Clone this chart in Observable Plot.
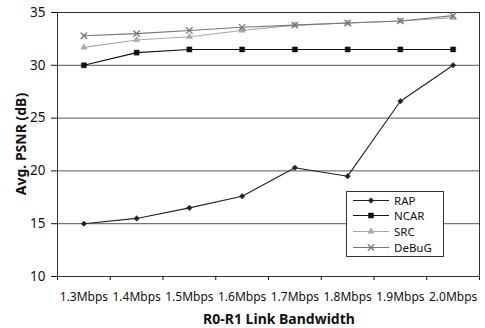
<!DOCTYPE html>
<html>
<head>
<meta charset="utf-8">
<script src="https://cdn.jsdelivr.net/npm/d3@7"></script>
<script src="https://cdn.jsdelivr.net/npm/@observablehq/plot@0.6"></script>
<style>
  html, body { margin: 0; padding: 0; background: #fff; }
  #wrap { position: relative; width: 485px; height: 328px; font-family: "Noto Sans", sans-serif; color: #111; }
  #ylab { position: absolute; left: 20px; top: 144px; transform: translate(-50%, -50%) rotate(-90deg); font-weight: bold; font-size: 14px; white-space: nowrap; }
  #xlab { position: absolute; left: 279px; top: 318px; transform: translate(-50%, -50%); font-weight: bold; font-size: 14px; white-space: nowrap; }
  #legend { position: absolute; left: 346px; top: 191px; width: 96px; height: 64px; border: 1px solid #333; background: #fff; font-size: 11.5px; line-height: 15px; }
  #legend .row { position: absolute; left: 4px; height: 15px; line-height: 15px; display: flex; align-items: center; }
  #legend svg { margin-right: 3px; display: block; }
</style>
</head>
<body>
<div id="wrap">
  <div id="chart"></div>
  <div id="ylab">Avg. PSNR (dB)</div>
  <div id="xlab">R0-R1 Link Bandwidth</div>
  <div id="legend"></div>
</div>
<script>
const categories = ["1.3Mbps","1.4Mbps","1.5Mbps","1.6Mbps","1.7Mbps","1.8Mbps","1.9Mbps","2.0Mbps"];
const RAP   = [15.0, 15.5, 16.5, 17.6, 20.3, 19.5, 26.6, 30.0];
const NCAR  = [30.0, 31.2, 31.5, 31.5, 31.5, 31.5, 31.5, 31.5];
const SRC   = [31.7, 32.4, 32.7, 33.3, 33.8, 34.0, 34.2, 34.5];
const DeBuG = [32.8, 33.0, 33.3, 33.6, 33.8, 34.0, 34.2, 34.7];
const yTicks = [10, 15, 20, 25, 30, 35];

const seriesNames = ["RAP", "NCAR", "SRC", "DeBuG"];
const seriesValues = {RAP, NCAR, SRC, DeBuG};
const seriesStyle = {
  RAP:   {color: "#222", symbol: "diamond2", r: 2.5, fill: "#222"},
  NCAR:  {color: "#111", symbol: "square2",  r: 3.2, fill: "#111"},
  SRC:   {color: "#a8a8a8", symbol: "triangle2", r: 3, fill: "#a8a8a8"},
  DeBuG: {color: "#777", symbol: "times", r: 3, fill: "none"}
};

const rows = [];
for (const s of seriesNames) {
  seriesValues[s].forEach((v, i) => rows.push({series: s, i, v}));
}
const centers = categories.map((c, i) => i);
const bounds = categories.map((c, i) => i - 0.5).concat([categories.length - 0.5]);

const marks = [
  Plot.gridY(yTicks, {stroke: "#444", strokeOpacity: 0.9, strokeWidth: 1}),
  Plot.frame({stroke: "#333"}),
  Plot.axisY({ticks: yTicks, tickSize: 6, tickPadding: 6, fontSize: 13.5}),
  Plot.axisX({ticks: bounds, tickFormat: () => "", tickSize: 4}),
  Plot.axisX({ticks: centers, tickFormat: i => categories[i], tickSize: 0, tickPadding: 16, fontSize: 12})
];
for (const s of seriesNames) {
  const st = seriesStyle[s];
  const d = rows.filter(r => r.series === s);
  marks.push(Plot.line(d, {x: "i", y: "v", stroke: st.color, strokeWidth: 1.1}));
  marks.push(Plot.dot(d, {x: "i", y: "v", symbol: () => st.symbol, r: st.r, fill: st.fill, stroke: st.color, strokeWidth: st.fill === "none" ? 1.3 : 0.5}));
}

const chart = Plot.plot({
  width: 485,
  height: 328,
  marginLeft: 57,
  marginRight: 6,
  marginTop: 12,
  marginBottom: 52,
  style: {fontFamily: "Noto Sans, sans-serif", color: "#111", background: "#fff"},
  x: {type: "linear", domain: [-0.5, categories.length - 0.5], label: null},
  y: {domain: [10, 35], label: null},
  symbol: {type: "identity"},
  marks
});
document.getElementById("chart").appendChild(chart);

// legend
const legend = document.getElementById("legend");
seriesNames.forEach((s, k) => {
  const st = seriesStyle[s];
  const row = document.createElement("div");
  row.className = "row";
  row.style.top = (0.5 + k * 15.7) + "px";
  const sym = d3.symbol(
    {diamond2: d3.symbolDiamond2, square2: d3.symbolSquare2, triangle2: d3.symbolTriangle2, times: d3.symbolTimes}[st.symbol],
    Math.PI * st.r * st.r
  )();
  row.innerHTML = `<svg width="40" height="15"><line x1="2" x2="38" y1="7.5" y2="7.5" stroke="${st.color}" stroke-width="1.1"/><path transform="translate(20,7.5)" d="${sym}" fill="${st.fill}" stroke="${st.color}" stroke-width="${st.fill === "none" ? 1.3 : 0.5}"/></svg><span>${s}</span>`;
  legend.appendChild(row);
});
</script>
</body>
</html>
